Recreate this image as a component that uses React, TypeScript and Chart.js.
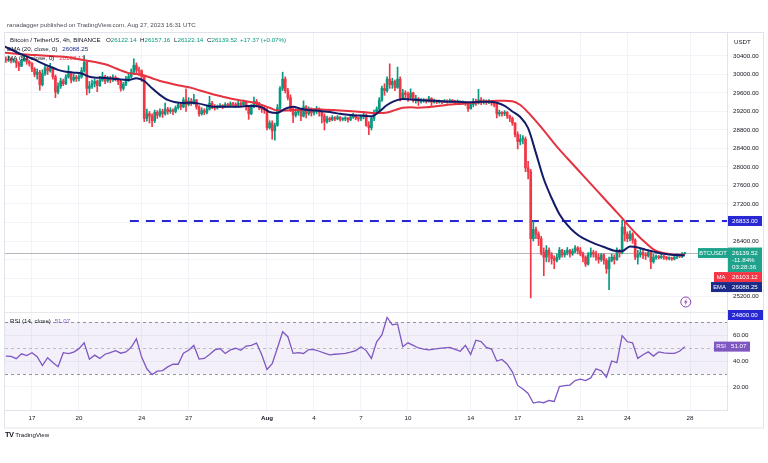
import React, { useEffect, useRef } from 'react';
import { Chart, registerables } from 'chart.js';

Chart.register(...registerables);

const FONT = "'Liberation Sans', Arial, sans-serif";
const TEXT_SIZE = 6.2;

// ---- time axis: days since 2023-07-01 00:00 UTC ----
const TICK_DAYS = [16, 19, 23, 26, 31, 34, 37, 40, 44, 47, 51, 54, 58];
const TICK_LABELS = ['17', '20', '24', '27', 'Aug', '4', '7', '10', '14', '17', '21', '24', '28'];
const VIEW_FROM_DAY = 14.28;
const VIEW_TO_DAY = 60.36;

// ---- BTCUSDT 4h candles, Jul 15 08:00 -> Aug 27 16:00 (open = previous close) ----
const FIRST_CANDLE_DAY = 14 + 8 / 24;
const CANDLE_STEP_DAYS = 1 / 6;
const FIRST_OPEN = 30330;
const CLOSES = [
  30310, 30330, 30290, 30300,
  30250, 30180, 30300, 30350, 30280, 30240,
  30120, 30000, 30050, 29780, 30020, 30140,
  30080, 30150, 29950, 29620, 29750, 29860,
  29800, 29950, 30020, 29880, 29940, 29910,
  29950, 30080, 30260, 29700, 29750, 29800,
  29850, 29760, 29880, 29950, 29860, 29910,
  29880, 29940, 29900, 29850, 29700, 29790,
  29900, 29950, 30050, 30200, 30100, 30080,
  29950, 29050, 29150, 29100, 29000, 29180,
  29120, 29200, 29150, 29250, 29200, 29230,
  29200, 29280, 29350, 29300, 29450, 29350,
  29420, 29380, 29450, 29300, 29150, 29220,
  29180, 29250, 29380, 29300, 29280, 29310,
  29330, 29300, 29350, 29330, 29370, 29350,
  29330, 29380, 29350, 29400, 29300, 29150,
  29300, 29420, 29380, 29300, 29250, 29230,
  28850, 28950, 28780, 28900, 29280, 29700,
  29900, 29650, 29500, 29250, 29120, 29180,
  29230, 29100, 29300, 29150, 29250, 29170,
  29200, 29250, 29180, 29100, 28980, 29050,
  29020, 29070, 29040, 29080, 29030, 29040,
  29060, 29020, 29080, 29110, 29060, 29040,
  29100, 29120, 28900, 28850, 29050, 29180,
  29250, 29450, 29700, 29650, 29900, 29780,
  29850, 29720, 29900, 29500, 29600, 29570,
  29500, 29600, 29450, 29480, 29420, 29430,
  29450, 29420, 29480, 29400, 29430, 29400,
  29420, 29400, 29430, 29410, 29440, 29420,
  29400, 29420, 29380, 29400, 29380, 29260,
  29350, 29420, 29380, 29450, 29400, 29410,
  29400, 29420, 29380, 29350, 29150, 29180,
  29150, 29180, 29100, 29050, 28950, 28700,
  28550, 28600, 28600, 27980, 27900, 26450,
  26650, 26550, 26450, 26150, 26050, 26200,
  26100, 26020, 25980, 26050, 26200, 26100,
  26150, 26200, 26120, 26180, 26250, 26190,
  26120, 26050, 25900, 26100, 26150, 26120,
  26050, 26000, 26100, 25980, 25800, 25980,
  26050, 26000, 26180, 26150, 26700, 26550,
  26450, 26550, 26420, 26050, 26100, 26150,
  26100, 26080, 26150, 25950, 26050, 26060,
  26040, 26070, 26050, 26020, 26030, 26010,
  26050, 26080, 26070, 26122.14, 26139.52,
];
const HIGHS = [
  30380, 30400, 30360, 30340,
  30330, 30280, 30340, 30440, 30380, 30300,
  30260, 30150, 30120, 30090, 30100, 30200,
  30180, 30240, 30160, 29990, 29820, 29920,
  29900, 30000, 30190, 30050, 30000, 29980,
  30000, 30150, 30410, 30300, 29850, 29880,
  29900, 29880, 29960, 30050, 29980, 29960,
  29960, 29990, 29970, 29930, 29880, 29830,
  29960, 30020, 30120, 30340, 30250, 30160,
  30100, 29980, 29250, 29200, 29150, 29230,
  29220, 29260, 29250, 29380, 29290, 29280,
  29260, 29320, 29400, 29380, 29500, 29690,
  29500, 29480, 29570, 29460, 29330, 29280,
  29260, 29320, 29530, 29420, 29350, 29340,
  29370, 29350, 29390, 29380, 29410, 29400,
  29390, 29420, 29410, 29450, 29410, 29320,
  29350, 29510, 29460, 29400, 29330, 29290,
  29280, 29000, 29000, 28950, 29350, 29740,
  30050, 29950, 29700, 29560, 29300, 29260,
  29280, 29260, 29430, 29330, 29300, 29280,
  29260, 29310, 29280, 29220, 29150, 29100,
  29080, 29110, 29090, 29110, 29090, 29070,
  29090, 29070, 29120, 29160, 29130, 29080,
  29120, 29160, 29150, 28980, 29100, 29230,
  29300, 29500, 29750, 29800, 29950, 30230,
  29920, 29880, 30160, 29950, 29680, 29650,
  29620, 29690, 29620, 29550, 29500, 29480,
  29480, 29470, 29530, 29500, 29470, 29450,
  29450, 29440, 29460, 29450, 29470, 29460,
  29440, 29450, 29430, 29430, 29420, 29400,
  29400, 29480, 29470, 29680, 29500, 29460,
  29450, 29460, 29440, 29400, 29370, 29230,
  29200, 29220, 29200, 29120, 29080, 28960,
  28760, 28700, 28680, 28650, 28120, 27950,
  26830, 26700, 26600, 26500, 26250, 26300,
  26250, 26150, 26080, 26120, 26260, 26220,
  26200, 26260, 26220, 26230, 26300, 26280,
  26260, 26160, 26080, 26150, 26250, 26200,
  26180, 26120, 26130, 26120, 26020, 26050,
  26120, 26100, 26250, 26220, 26850, 26820,
  26600, 26620, 26580, 26450, 26200, 26220,
  26200, 26150, 26200, 26180, 26120, 26100,
  26090, 26110, 26090, 26070, 26060, 26050,
  26080, 26120, 26110, 26150, 26157.16,
];
const LOWS = [
  30260, 30280, 30250, 30260,
  30150, 30080, 30170, 30280, 30220, 30180,
  30060, 29950, 29900, 29660, 29750, 29980,
  30000, 30050, 29900, 29500, 29580, 29700,
  29760, 29780, 29920, 29820, 29850, 29850,
  29860, 29920, 30050, 29560, 29600, 29700,
  29730, 29630, 29740, 29850, 29800, 29830,
  29820, 29850, 29860, 29780, 29640, 29660,
  29760, 29850, 29920, 30000, 30000, 29980,
  29850, 28980, 28990, 28950, 28870, 28960,
  29050, 29080, 29070, 29120, 29140, 29160,
  29130, 29170, 29250, 29240, 29280, 29200,
  29320, 29330, 29360, 29250, 29100, 29120,
  29130, 29150, 29230, 29260, 29230, 29250,
  29280, 29260, 29290, 29300, 29310, 29320,
  29290, 29300, 29310, 29330, 29230, 29030,
  29130, 29280, 29300, 29240, 29180, 29160,
  28800, 28820, 28600, 28580, 28880, 29200,
  29650, 29600, 29450, 29200, 28960, 29080,
  29120, 29000, 29080, 29060, 29120, 29100,
  29120, 29150, 29100, 28950, 28800, 28950,
  28980, 29000, 29000, 29020, 28990, 29000,
  29000, 28970, 29000, 29050, 29020, 28990,
  29000, 29040, 28880, 28700, 28800, 29000,
  29150, 29220, 29420, 29550, 29620, 29700,
  29700, 29650, 29700, 29430, 29460, 29500,
  29420, 29480, 29400, 29380, 29330, 29380,
  29400, 29380, 29400, 29330, 29380, 29370,
  29380, 29370, 29390, 29380, 29400, 29390,
  29370, 29380, 29350, 29360, 29330, 29200,
  29250, 29300, 29330, 29360, 29350, 29360,
  29350, 29370, 29330, 29300, 29060, 29100,
  29100, 29110, 29050, 28980, 28900, 28650,
  28390, 28480, 28500, 27900, 27740, 25170,
  26400, 26450, 26300, 26100, 25650, 25950,
  25950, 25900, 25800, 25950, 26000, 26050,
  26050, 26100, 26050, 26090, 26150, 26120,
  26080, 25950, 25850, 25880, 26050, 26050,
  25980, 25920, 25960, 25900, 25700, 25350,
  25950, 25900, 25980, 26050, 26120, 26400,
  26380, 26400, 26350, 26000, 25900, 26050,
  26020, 26000, 26050, 25800, 25920, 26000,
  26010, 26020, 26000, 25990, 25990, 25980,
  25990, 26020, 26040, 26040, 26122.14,
];

// ---- EMA(20) and MA(50) read every 12h, from Jul 15 04:00 ----
const LINE_FROM_DAY = 14 + 4 / 24;
const LINE_STEP_DAYS = 0.5;
const EMA20 = [
  30620, 30540, 30460, 30390, 30320, 30240, 30170, 30100, 30060, 30040,
  30020, 29950, 29930, 29925, 29910, 29890, 29880, 29920, 29860, 29700,
  29560, 29450, 29400, 29385, 29390, 29370, 29330, 29300, 29300, 29300,
  29300, 29320, 29320, 29290, 29190, 29170, 29260, 29300, 29260, 29230,
  29220, 29200, 29180, 29150, 29130, 29115, 29110, 29095, 29200, 29340,
  29430, 29470, 29460, 29450, 29440, 29430, 29420, 29410, 29410, 29400,
  29400, 29410, 29410, 29390, 29320, 29200, 29080, 28840, 28300, 27740,
  27330, 26980, 26750, 26580, 26460, 26380, 26310, 26250, 26190, 26180,
  26280, 26260, 26210, 26170, 26130, 26110, 26095, 26088.25,
];
const MA50 = [
  30475, 30460, 30445, 30430, 30420, 30410, 30400, 30390, 30380, 30350,
  30320, 30290, 30260, 30220, 30160, 30090, 30030, 30010, 29980, 29920,
  29860, 29820, 29780, 29745, 29710, 29660, 29610, 29560, 29520, 29480,
  29450, 29420, 29390, 29340, 29280, 29220, 29220, 29230, 29240, 29250,
  29250, 29240, 29230, 29220, 29210, 29200, 29190, 29170, 29165, 29180,
  29230, 29280, 29290, 29280, 29290, 29310, 29330, 29350, 29360, 29375,
  29390, 29405, 29420, 29430, 29430, 29420, 29340, 29180, 28990, 28790,
  28580, 28375, 28190, 28005, 27820, 27635, 27450, 27265, 27080, 26895,
  26700, 26520, 26360, 26220, 26150, 26120, 26105, 26103.12,
];

// ---- RSI(14) read every 8h, from Jul 15 08:00 ----
const RSI_FROM_DAY = 14 + 8 / 24;
const RSI_STEP_DAYS = 1 / 3;
const RSI14 = [
  43.8, 43.5, 41.8, 45.5, 44.2, 46.4, 43.3, 36.5, 42.5, 38.8,
  35.6, 46.4, 45.7, 46.8, 49.5, 54.0, 41.4, 44.5, 42.0, 45.2,
  46.5, 48.0, 46.0, 47.0, 50.5, 57.0, 43.0, 34.0, 29.5, 32.2,
  32.6, 35.5, 37.5, 37.5, 46.0, 48.2, 52.0, 41.5, 42.0, 45.0,
  48.5, 49.6, 45.8, 48.5, 49.8, 48.2, 51.5, 52.0, 53.8, 44.8,
  33.5, 38.0, 50.0, 62.5, 58.7, 45.9, 46.4, 45.8, 48.8, 48.8,
  47.5, 46.0, 44.7, 45.2, 45.5, 45.8, 46.8, 48.0, 51.0, 48.0,
  42.0, 54.7, 60.0, 73.5, 67.8, 68.5, 51.0, 54.0, 52.0, 50.0,
  49.2, 48.6, 49.2, 49.7, 50.1, 50.5, 49.0, 47.5, 52.0, 45.0,
  56.0, 55.0, 50.5, 49.2, 40.0, 41.2, 37.5, 31.5, 21.2, 18.5,
  15.0, 7.6, 8.5, 7.9, 9.6, 8.9, 20.3, 21.0, 21.5, 25.0,
  26.0, 24.9, 27.0, 34.0, 32.5, 27.5, 40.0, 38.8, 59.5, 54.8,
  54.0, 42.0, 44.8, 47.0, 43.8, 47.0, 46.3, 45.9, 45.9, 47.5,
  51.07,
];

// ---- axes ----
const PRICE_MIN = 24865;
const PRICE_MAX = 30897;
const PRICE_TICKS = [25200, 25600, 26000, 26400, 26800, 27200, 27600, 28000, 28400, 28800, 29200, 29600, 30000, 30400];
const PRICE_TICKS_HIDDEN = [25600, 26000, 26800];
const RSI_MIN = 2.3;
const RSI_MAX = 77.7;
const RSI_TICKS = [20, 40, 60];
const RSI_BANDS = [70, 50, 30];

// ---- levels / labels ----
const LEVEL_PRICE = 26833;
const LEVEL_FROM_DAY = 22.25;
const LOWER_LEVEL_PRICE = 24800;
const LAST_CLOSE = 26139.52;
const LAST_CHANGE = '-11.84%';
const COUNTDOWN = '03:28:36';
const LAST_MA = 26103.12;
const LAST_EMA = 26088.25;
const LAST_RSI = 51.07;

const UP = '#089981';
const DOWN = '#f23645';
const EMA_COLOR = '#121b68';
const MA_COLOR = '#e5323f';
const LEVEL_COLOR = '#2727d4';
const RSI_COLOR = '#7e57c2';
const TAG_GREEN = '#1fa38c';

const OPENS = CLOSES.map((c, i) => (i === 0 ? FIRST_OPEN : CLOSES[i - 1]));
const candleDay = (i: number) => FIRST_CANDLE_DAY + i * CANDLE_STEP_DAYS;

function drawBox(ctx: any, x1: number, x2: number, y1: number, y2: number, bg: string) {
  ctx.fillStyle = bg;
  ctx.fillRect(x1, y1, x2 - x1, y2 - y1);
}
function drawText(ctx: any, s: string, x: number, y: number, color: string, align: string = 'left', size = TEXT_SIZE) {
  ctx.fillStyle = color;
  ctx.font = `${size}px ${FONT}`;
  ctx.textAlign = align;
  ctx.textBaseline = 'middle';
  ctx.fillText(s, x, y);
}

const overlayPlugin = {
  id: 'tvOverlay',
  beforeDatasetsDraw(chart: any) {
    const { ctx, chartArea: ca, scales } = chart;
    const yr = scales.yR;
    const ys = scales.y;
    ctx.save();
    const t = yr.getPixelForValue(RSI_BANDS[0]);
    const b = yr.getPixelForValue(RSI_BANDS[2]);
    ctx.fillStyle = 'rgba(126,87,194,0.09)';
    ctx.fillRect(ca.left, t, ca.right - ca.left, b - t);
    ctx.lineWidth = 1;
    ctx.setLineDash([3, 3]);
    RSI_BANDS.forEach((v) => {
      const y = Math.round(yr.getPixelForValue(v)) + 0.5;
      ctx.strokeStyle = v === 50 ? 'rgba(120,123,134,0.45)' : 'rgba(120,123,134,0.8)';
      ctx.beginPath();
      ctx.moveTo(ca.left, y);
      ctx.lineTo(ca.right, y);
      ctx.stroke();
    });
    ctx.setLineDash([]);
    const py = Math.round(ys.getPixelForValue(LAST_CLOSE)) + 0.5;
    ctx.strokeStyle = 'rgba(120,123,134,0.55)';
    ctx.beginPath();
    ctx.moveTo(ca.left, py);
    ctx.lineTo(ca.right, py);
    ctx.stroke();
    ctx.restore();
  },
  afterDraw(chart: any) {
    const { ctx, chartArea: ca, scales } = chart;
    const ys = scales.y;
    const yr = scales.yR;
    const xs = scales.x;
    ctx.save();
    ctx.strokeStyle = '#e6e8ee';
    ctx.lineWidth = 1;
    ctx.beginPath();
    ctx.moveTo(ca.left, Math.round(ys.bottom) + 0.5);
    ctx.lineTo(ys.right, Math.round(ys.bottom) + 0.5);
    ctx.stroke();
    ctx.strokeStyle = '#e0e3eb';
    ctx.strokeRect(4.5, 32.5, 759, 395.5);

    const AX1 = ca.right + 1;
    const AX2 = AX1 + 34;
    drawText(ctx, 'USDT', AX1 + 6, 42, '#131722');

    const ly = ys.getPixelForValue(LEVEL_PRICE);
    drawBox(ctx, AX1, AX2, ly - 5, ly + 5, LEVEL_COLOR);
    drawText(ctx, LEVEL_PRICE.toFixed(2), AX1 + 4, ly, '#fff');
    const ly2 = ys.getPixelForValue(LOWER_LEVEL_PRICE);
    drawBox(ctx, AX1, AX2 + 1, ly2 - 5, ly2 + 5, LEVEL_COLOR);
    drawText(ctx, LOWER_LEVEL_PRICE.toFixed(2), AX1 + 4, ly2, '#fff');

    const py = ys.getPixelForValue(LAST_CLOSE);
    drawBox(ctx, AX1 - 30, AX1, py - 5, py + 5, TAG_GREEN);
    drawText(ctx, 'BTCUSDT', AX1 - 15, py, '#fff', 'center', 5.8);
    drawBox(ctx, AX1, AX2, py - 5.5, py + 19, TAG_GREEN);
    drawText(ctx, LAST_CLOSE.toFixed(2), AX1 + 4, py, '#fff');
    drawText(ctx, LAST_CHANGE, AX1 + 4, py + 7.5, '#fff');
    drawText(ctx, COUNTDOWN, AX1 + 4, py + 14.5, '#fff');
    const my = py + 24;
    drawBox(ctx, AX1 - 14, AX1, my - 5, my + 5, DOWN);
    drawText(ctx, 'MA', AX1 - 7, my, '#fff', 'center', 5.8);
    drawBox(ctx, AX1, AX2, my - 5, my + 5, DOWN);
    drawText(ctx, LAST_MA.toFixed(2), AX1 + 4, my, '#fff');
    const ey = py + 34;
    drawBox(ctx, AX1 - 17, AX1, ey - 5, ey + 5, '#1c2a8a');
    drawText(ctx, 'EMA', AX1 - 8.5, ey, '#fff', 'center', 5.8);
    drawBox(ctx, AX1, AX2, ey - 5, ey + 5, '#1c2a8a');
    drawText(ctx, LAST_EMA.toFixed(2), AX1 + 4, ey, '#fff');
    const ry = yr.getPixelForValue(LAST_RSI);
    drawBox(ctx, AX1 - 14, AX1, ry - 5, ry + 5, RSI_COLOR);
    drawText(ctx, 'RSI', AX1 - 7, ry, '#fff', 'center', 5.8);
    drawBox(ctx, AX1, AX1 + 22, ry - 5, ry + 5, RSI_COLOR);
    drawText(ctx, LAST_RSI.toFixed(2), AX1 + 3, ry, '#fff');

    const cx = xs.getPixelForValue(candleDay(CLOSES.length - 1)) + 1;
    const cy = ys.bottom - 10;
    ctx.strokeStyle = '#8e44ad';
    ctx.lineWidth = 1;
    ctx.beginPath();
    ctx.arc(cx, cy, 5, 0, Math.PI * 2);
    ctx.stroke();
    ctx.fillStyle = '#8e44ad';
    ctx.beginPath();
    ctx.moveTo(cx + 1.2, cy - 3.5);
    ctx.lineTo(cx - 1.8, cy + 0.6);
    ctx.lineTo(cx - 0.1, cy + 0.6);
    ctx.lineTo(cx - 1.2, cy + 3.5);
    ctx.lineTo(cx + 1.8, cy - 0.6);
    ctx.lineTo(cx + 0.1, cy - 0.6);
    ctx.closePath();
    ctx.fill();
    ctx.restore();
  },
};

export default function App() {
  const ref = useRef<HTMLCanvasElement | null>(null);

  useEffect(() => {
    const canvas = ref.current;
    if (!canvas) return;
    const colors = CLOSES.map((c, i) => (c >= OPENS[i] ? UP : DOWN));
    const wicks = CLOSES.map((_, i) => ({ x: candleDay(i), y: [LOWS[i], HIGHS[i]] }));
    const bodies = CLOSES.map((c, i) => ({ x: candleDay(i), y: [OPENS[i], c] }));
    const ema = EMA20.map((v, i) => ({ x: LINE_FROM_DAY + i * LINE_STEP_DAYS, y: v }));
    const ma = MA50.map((v, i) => ({ x: LINE_FROM_DAY + i * LINE_STEP_DAYS, y: v }));
    const rsi = RSI14.map((v, i) => ({ x: RSI_FROM_DAY + i * RSI_STEP_DAYS, y: v }));
    const tickFont = { family: FONT, size: TEXT_SIZE };

    const chart = new Chart(canvas, {
      type: 'bar',
      data: {
        datasets: [
          {
            type: 'line',
            label: 'level',
            data: [
              { x: LEVEL_FROM_DAY, y: LEVEL_PRICE },
              { x: VIEW_TO_DAY, y: LEVEL_PRICE },
            ],
            borderColor: LEVEL_COLOR,
            borderWidth: 2,
            borderDash: [9, 7],
            pointRadius: 0,
            yAxisID: 'y',
            order: 6,
          },
          {
            type: 'bar',
            label: 'wicks',
            data: wicks,
            backgroundColor: colors,
            barThickness: 1,
            grouped: false,
            yAxisID: 'y',
            order: 5,
          },
          {
            type: 'bar',
            label: 'bodies',
            data: bodies,
            backgroundColor: colors,
            barThickness: 2,
            minBarLength: 1,
            grouped: false,
            yAxisID: 'y',
            order: 4,
          },
          {
            type: 'line',
            label: 'MA (50, close, 0)',
            data: ma,
            borderColor: MA_COLOR,
            borderWidth: 2,
            pointRadius: 0,
            cubicInterpolationMode: 'monotone',
            yAxisID: 'y',
            order: 3,
          },
          {
            type: 'line',
            label: 'EMA (20, close, 0)',
            data: ema,
            borderColor: EMA_COLOR,
            borderWidth: 2,
            pointRadius: 0,
            cubicInterpolationMode: 'monotone',
            yAxisID: 'y',
            order: 2,
          },
          {
            type: 'line',
            label: 'RSI (14, close)',
            data: rsi,
            borderColor: RSI_COLOR,
            borderWidth: 1.3,
            pointRadius: 0,
            yAxisID: 'yR',
            order: 1,
          },
        ],
      } as any,
      options: {
        responsive: false,
        animation: false,
        devicePixelRatio: 1,
        events: [],
        layout: { padding: { left: 5, top: 33, right: 4, bottom: 35 } },
        plugins: { legend: { display: false }, tooltip: { enabled: false } },
        scales: {
          x: {
            type: 'linear',
            position: 'bottom',
            min: VIEW_FROM_DAY,
            max: VIEW_TO_DAY,
            offset: false,
            afterBuildTicks: (s: any) => {
              s.ticks = TICK_DAYS.map((v) => ({ value: v }));
            },
            afterFit: (s: any) => {
              s.height = 18;
              s.paddingLeft = 0;
              s.paddingRight = 0;
            },
            ticks: {
              autoSkip: false,
              maxRotation: 0,
              padding: 5,
              color: '#131722',
              font: (c: any) => {
                const i = c.tick ? TICK_DAYS.indexOf(c.tick.value) : -1;
                return { ...tickFont, weight: i >= 0 && TICK_LABELS[i] === 'Aug' ? 'bold' : 'normal' };
              },
              callback: (v: any) => {
                const i = TICK_DAYS.indexOf(Number(v));
                return i >= 0 ? TICK_LABELS[i] : '';
              },
            },
            grid: { color: '#f1f3f8', drawTicks: false, tickLength: 0, offset: false },
            border: { color: '#e0e3eb' },
          },
          y: {
            type: 'linear',
            position: 'right',
            stack: 'panes',
            stackWeight: 279,
            min: PRICE_MIN,
            max: PRICE_MAX,
            afterBuildTicks: (s: any) => {
              s.ticks = PRICE_TICKS.map((v) => ({ value: v }));
            },
            afterFit: (s: any) => {
              s.width = 37;
              s.paddingTop = 0;
              s.paddingBottom = 0;
            },
            ticks: {
              padding: 6,
              color: '#131722',
              font: tickFont,
              callback: (v: any) => (PRICE_TICKS_HIDDEN.includes(Number(v)) ? '' : Number(v).toFixed(2)),
            },
            grid: { color: '#f1f3f8', drawTicks: false, tickLength: 0 },
            border: { color: '#e0e3eb' },
          },
          yR: {
            type: 'linear',
            position: 'right',
            stack: 'panes',
            stackWeight: 98,
            min: RSI_MIN,
            max: RSI_MAX,
            afterBuildTicks: (s: any) => {
              s.ticks = RSI_TICKS.map((v) => ({ value: v }));
            },
            afterFit: (s: any) => {
              s.width = 37;
              s.paddingTop = 0;
              s.paddingBottom = 0;
            },
            ticks: {
              padding: 6,
              color: '#131722',
              font: tickFont,
              callback: (v: any) => Number(v).toFixed(2),
            },
            grid: { color: '#f1f3f8', drawTicks: false, tickLength: 0 },
            border: { color: '#e0e3eb' },
          },
        },
      } as any,
      plugins: [overlayPlugin],
    });
    return () => chart.destroy();
  }, []);

  const abs = (left: number, top: number, extra: any = {}) => ({
    position: 'absolute' as const,
    left,
    top,
    whiteSpace: 'nowrap' as const,
    lineHeight: '8px',
    ...extra,
  });

  return (
    <div
      style={{
        position: 'fixed',
        left: 0,
        top: 0,
        width: 768,
        height: 463,
        background: '#ffffff',
        fontFamily: FONT,
        fontSize: TEXT_SIZE,
        color: '#131722',
        overflow: 'hidden',
      }}
    >
      <canvas ref={ref} width={768} height={463} style={{ position: 'absolute', left: 0, top: 0, width: 768, height: 463 }} />
      <div style={abs(7, 21, { color: '#4a4d57' })}>
        ranadagger published on TradingView.com, Aug 27, 2023 16:31 UTC
      </div>
      <div style={abs(10, 36)}>Bitcoin / TetherUS, 4h, BINANCE</div>
      <div style={abs(106, 36)}>
        O<span style={{ color: UP }}>26122.14</span>
      </div>
      <div style={abs(140, 36)}>
        H<span style={{ color: UP }}>26157.16</span>
      </div>
      <div style={abs(174, 36)}>
        L<span style={{ color: UP }}>26122.14</span>
      </div>
      <div style={abs(207, 36)}>
        C<span style={{ color: UP }}>26139.52</span>
      </div>
      <div style={abs(240, 36, { color: UP })}>+17.37 (+0.07%)</div>
      <div style={abs(7, 45)}>
        EMA (20, close, 0) <span style={{ color: '#1c2a8a', marginLeft: 3 }}>26088.25</span>
      </div>
      <div style={abs(8, 54)}>
        MA (50, close, 0) <span style={{ color: DOWN, marginLeft: 3 }}>26103.12</span>
      </div>
      <div style={abs(10, 317)}>
        RSI (14, close) <span style={{ color: RSI_COLOR, marginLeft: 2 }}>51.07</span>
      </div>
      <div style={abs(5, 431)}>
        <span style={{ fontWeight: 'bold', fontSize: 7.5, letterSpacing: -0.5 }}>TV</span> TradingView
      </div>
    </div>
  );
}
